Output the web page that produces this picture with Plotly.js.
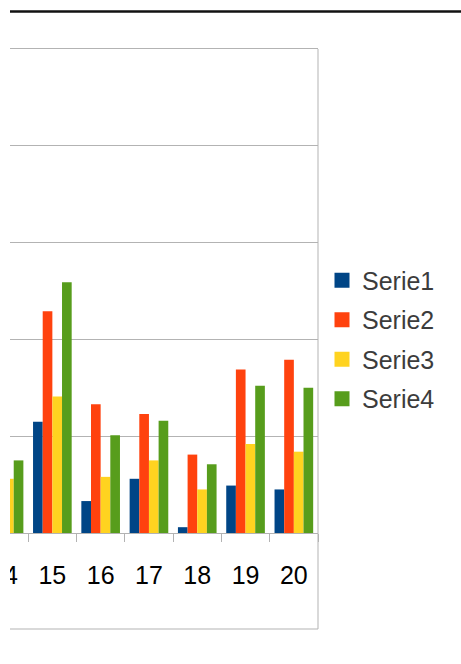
<!DOCTYPE html>
<html>
<head>
<meta charset="utf-8">
<script src="https://cdn.plot.ly/plotly-3.0.1.min.js"></script>
<style>html,body{margin:0;padding:0;background:#fff;}#chart{width:461px;height:664px;}</style>
</head>
<body>
<div id="chart"></div>
<script>
var categories = ['14', '15', '16', '17', '18', '19', '20'];
var serie1 = [0.70, 1.15, 0.33, 0.56, 0.06, 0.49, 0.45];
var serie2 = [1.40, 2.29, 1.33, 1.23, 0.81, 1.69, 1.79];
var serie3 = [0.56, 1.41, 0.58, 0.75, 0.45, 0.92, 0.84];
var serie4 = [0.75, 2.59, 1.01, 1.16, 0.71, 1.52, 1.50];
var seriesNames = ['Serie1', 'Serie2', 'Serie3', 'Serie4'];
var seriesValues = [serie1, serie2, serie3, serie4];
var colors = ['#004586', '#ff420e', '#ffd320', '#579d1c'];

var traces = [];
seriesValues.forEach(function (vals, i) {
  traces.push({
    type: 'bar', x: categories, y: vals, name: seriesNames[i],
    marker: {color: colors[i], line: {width: 0}},
    showlegend: false, hoverinfo: 'none'
  });
});
seriesValues.forEach(function (vals, i) {
  traces.push({
    type: 'scatter', mode: 'markers', x: [categories[0]], y: [null], name: seriesNames[i],
    legendgroup: 'g' + i,
    marker: {color: colors[i], symbol: 'square', size: 15, line: {width: 0}},
    showlegend: true, hoverinfo: 'none'
  });
});

var plotW = 318, plotH = 484;
var lowerY = -96 / plotH;

var layout = {
  width: 461, height: 664,
  margin: {l: 0, r: 143, t: 49, b: 131, pad: 0},
  paper_bgcolor: '#ffffff', plot_bgcolor: '#ffffff',
  barmode: 'group', bargap: 0.2, bargroupgap: 0,
  font: {family: 'Liberation Sans, Arial, sans-serif', color: '#000'},
  xaxis: {
    type: 'category', range: [-0.084, 6.5],
    showline: true, linecolor: '#b3b3b3', linewidth: 1, mirror: true,
    ticks: 'outside', ticklen: 8, tickcolor: '#b3b3b3', tickwidth: 1,
    tickson: 'boundaries', showgrid: false,
    tickfont: {family: 'Liberation Sans, Arial, sans-serif', size: 25, color: '#000'},
    ticklabelstandoff: 20, fixedrange: true
  },
  yaxis: {
    range: [0, 5], dtick: 1, showticklabels: false, ticks: '',
    showgrid: true, gridcolor: '#b3b3b3', gridwidth: 1,
    zeroline: false, showline: false, fixedrange: true
  },
  legend: {
    x: 322 / plotW, xanchor: 'left', y: 0.40, yanchor: 'middle',
    font: {family: 'Liberation Sans, Arial, sans-serif', size: 25, color: '#3c3c3c'},
    traceorder: 'grouped', tracegroupgap: 4, bgcolor: 'rgba(0,0,0,0)', borderwidth: 0
  },
  shapes: [
    {type: 'line', xref: 'paper', yref: 'paper', x0: 1, x1: 1, y0: 1, y1: lowerY,
     line: {color: '#b3b3b3', width: 1}, layer: 'above'},
    {type: 'line', xref: 'paper', yref: 'paper', x0: 0, x1: 1, y0: lowerY, y1: lowerY,
     line: {color: '#b3b3b3', width: 1}, layer: 'above'},
    {type: 'rect', xref: 'paper', yref: 'paper', x0: -0.1, x1: 10 / plotW, y0: -0.5, y1: 1.5,
     fillcolor: '#ffffff', line: {width: 0}, layer: 'above'},
    {type: 'line', xref: 'paper', yref: 'paper', x0: 10 / plotW, x1: 470 / plotW,
     y0: (533 - 11.5) / plotH, y1: (533 - 11.5) / plotH,
     line: {color: '#111111', width: 2.5}, layer: 'above'}
  ]
};

Plotly.newPlot('chart', traces, layout, {displayModeBar: false, staticPlot: true});
</script>
</body>
</html>
